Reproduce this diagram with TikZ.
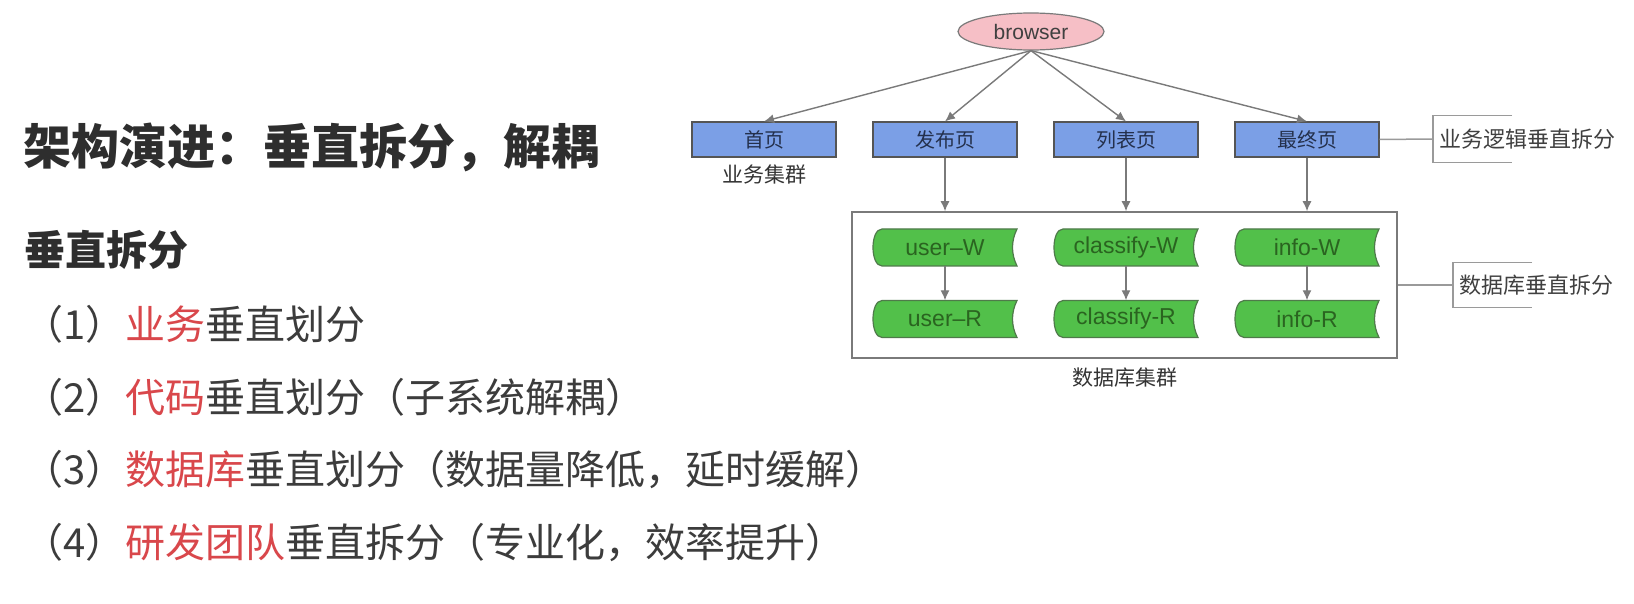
\documentclass[tikz,border=0pt]{standalone}
\usepackage{fontspec}
\setmainfont{Liberation Sans}
\newfontfamily\cjk{Noto Sans CJK SC}
\usetikzlibrary{positioning,arrows.meta,shapes.geometric}

\definecolor{titlegray}{HTML}{2E2E2E}
\definecolor{itemgray}{HTML}{3C3C3C}
\definecolor{keyred}{HTML}{D9474B}
\definecolor{pagefill}{HTML}{7B9FE6}
\definecolor{pagetext}{HTML}{24304C}
\definecolor{browserfill}{HTML}{F6BFC6}
\definecolor{storefill}{HTML}{52C04A}
\definecolor{storeline}{HTML}{4F7A4A}
\definecolor{storetext}{HTML}{2A6420}
\definecolor{edgegray}{HTML}{7A7A7A}
\definecolor{notegray}{HTML}{9A9A9A}

\tikzset{
  pagebox/.style={draw=edgegray!70!black, fill=pagefill, line width=1.2pt,
    minimum width=144pt, minimum height=35pt, inner sep=0pt,
    font=\cjk\fontsize{20}{24}\selectfont, text=pagetext},
  dbstore/.style={fill=white, minimum width=150pt, minimum height=41pt, inner sep=0pt,
    font=\fontsize{23}{26}\selectfont, text=storetext,
    path picture={
      \coordinate (c) at (path picture bounding box.center);
      \draw[draw=storeline, fill=storefill, line width=1.2pt]
        ([shift={(-63pt,18.5pt)}]c) -- ([shift={(72pt,18.5pt)}]c)
        .. controls +(-6pt,-12pt) and +(-6pt,12pt) .. ([shift={(72pt,-18.5pt)}]c)
        -- ([shift={(-63pt,-18.5pt)}]c)
        .. controls +(-12pt,0pt) and +(-12pt,0pt) .. ([shift={(-63pt,18.5pt)}]c) -- cycle;
    }},
  cluster/.style={draw=edgegray, line width=1.5pt, fill=white,
    minimum width=545pt, minimum height=146pt, inner sep=0pt},
  caption/.style={inner sep=3pt, font=\cjk\fontsize{21}{24}\selectfont, text=black!80},
  sidenote/.style={anchor=west, minimum height=47pt, inner ysep=0pt, inner xsep=6pt,
    font=\cjk\fontsize{22}{24}\selectfont, text=black!75},
  bracket/.style={draw=notegray, line width=1.5pt},
  link/.style={draw=edgegray, line width=1.4pt, ->},
  point/.style={anchor=west, inner sep=0pt, font=\cjk\fontsize{40}{44}\selectfont, text=itemgray},
}

\begin{document}
\begin{tikzpicture}[x=1pt, y=-1pt, node distance=181pt, >={Latex[length=10pt,width=9pt]}]
	\useasboundingbox[fill=white] (0,0) rectangle (1634,604);

	% left column
	\node[point, font=\cjk\bfseries\fontsize{48}{52}\selectfont, text=titlegray] (title) at (23,147) {架构演进：垂直拆分，解耦};
	\node[point, font=\cjk\bfseries\fontsize{41}{44}\selectfont, text=titlegray] (subtitle) at (24,250) {垂直拆分};
	\node[point] (p1) at (23,324) {（1）\textcolor{keyred}{业务}垂直划分};
	\node[point] (p2) at (23,397) {（2）\textcolor{keyred}{代码}垂直划分（子系统解耦）};
	\node[point] (p3) at (23,470) {（3）\textcolor{keyred}{数据库}垂直划分（数据量降低，延时缓解）};
	\node[point] (p4) at (23,543) {（4）\textcolor{keyred}{研发团队}垂直拆分（专业化，效率提升）};

	% business layer
	\node[ellipse, draw=edgegray, line width=1.2pt, fill=browserfill, minimum width=146pt, minimum height=37pt,
	  inner sep=0pt, font=\fontsize{21}{24}\selectfont, text=black!75] (browser) at (1031,31.5) {browser};
	\node[pagebox] (home) at (764,139.5) {首页};
	\node[pagebox, right of=home] (publish) {发布页};
	\node[pagebox, right of=publish] (list) {列表页};
	\node[pagebox, right of=list] (final) {最终页};
	\node[caption, below=4pt of home] (bizcluster) {业务集群};

	\draw[link] (browser.south) -- (home.north);
	\draw[link] (browser.south) -- (publish.north);
	\draw[link] (browser.south) -- (list.north);
	\draw[link] (browser.south) -- (final.north);

	% database layer
	\node[cluster] (dbcluster) at (1124.5,285) {};
	\node[caption, below=6pt of dbcluster] (dbclusterlabel) {数据库集群};
	\node[dbstore, below of=publish, node distance=108pt] (userW) {user–W};
	\node[dbstore, right of=userW] (classifyW) {classify-W};
	\node[dbstore, right of=classifyW] (infoW) {info-W};
	\node[dbstore, below of=userW, node distance=71.5pt] (userR) {user–R};
	\node[dbstore, below of=classifyW, node distance=71.5pt] (classifyR) {classify-R};
	\node[dbstore, below of=infoW, node distance=71.5pt] (infoR) {info-R};

	\draw[link] (publish.south) -- (publish.south |- dbcluster.north);
	\draw[link] (list.south) -- (list.south |- dbcluster.north);
	\draw[link] (final.south) -- (final.south |- dbcluster.north);
	\draw[link] ([yshift=2pt]userW.south) -- ([yshift=-2pt]userR.north);
	\draw[link] ([yshift=2pt]classifyW.south) -- ([yshift=-2pt]classifyR.north);
	\draw[link] ([yshift=2pt]infoW.south) -- ([yshift=-2pt]infoR.north);

	% side notes
	\node[sidenote] (bizsplit) at (1433,139) {业务逻辑垂直拆分};
	\draw[bracket] ([xshift=79pt]bizsplit.north west) -- (bizsplit.north west) -- (bizsplit.south west) -- ++(79pt,0pt);
	\draw[bracket] (final.east) -- (bizsplit.west);

	\node[sidenote, minimum height=45pt] (dbsplit) at (1453,285) {数据库垂直拆分};
	\draw[bracket] ([xshift=79pt]dbsplit.north west) -- (dbsplit.north west) -- (dbsplit.south west) -- ++(79pt,0pt);
	\draw[bracket] (dbcluster.east) -- (dbsplit.west);
\end{tikzpicture}
\end{document}
